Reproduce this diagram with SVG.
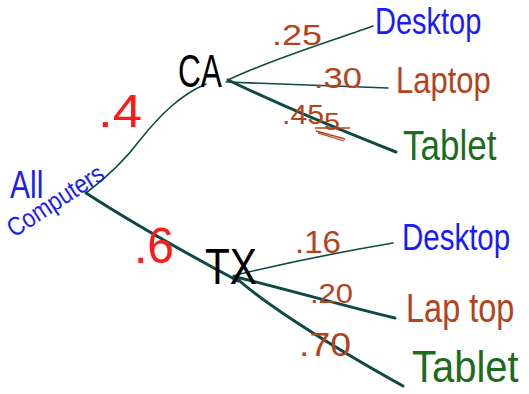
<svg xmlns="http://www.w3.org/2000/svg" width="529" height="394" viewBox="0 0 529 394">
<style>
.t{font-family:"Liberation Sans",Arial,sans-serif;font-weight:normal}
.b{fill:#1a1aff}.r{fill:#ff1a1a}.o{fill:#b5421a}.g{fill:#1e6b1e}.k{fill:#000}
.ln{fill:none;stroke:#0d4a45;stroke-linecap:round}
.thin{stroke-width:1.6}.thick{stroke-width:3}
</style>
<rect width="529" height="394" fill="#fff"/>
<g id="connectors">
<path class="ln thin" d="M86,193 C110,175 125,160 140,140 C160,115 180,95 206,84"/>
<path class="ln thick" d="M86,193 C120,215 180,250 238,281"/>
<path class="ln thin" d="M228,80 C270,60 320,45 373,26"/>
<path class="ln thin" d="M226,82 L388,88"/>
<path class="ln thick" d="M228,80 C280,105 340,130 396,152"/>
<path class="ln thin" d="M236,275 C290,262 340,252 393,243"/>
<path class="ln thick" d="M236,277 C290,290 340,305 395,318"/>
<path class="ln thick" d="M234,276 C260,300 320,340 403,386"/>
</g>
<g id="root"><text class="t b" transform="translate(10,198) scale(1,1.3)" font-size="30">All</text>
<text class="t b" x="14" y="238" font-size="26" textLength="110" lengthAdjust="spacingAndGlyphs" transform="rotate(-33 14 238)">Computers</text></g>
<g id="p-ca"><text class="t r" x="98" y="127" font-size="46" textLength="44" lengthAdjust="spacingAndGlyphs">.4</text></g>
<g id="p-tx"><text class="t r" x="134" y="263" font-size="50" textLength="40" lengthAdjust="spacingAndGlyphs">.6</text></g>
<g id="ca"><text class="t k" x="178" y="87" font-size="46" textLength="44" lengthAdjust="spacingAndGlyphs">CA</text></g>
<g id="tx"><text class="t k" x="205" y="284" font-size="50" textLength="52" lengthAdjust="spacingAndGlyphs">TX</text></g>
<g id="ca-desktop"><text class="t o" x="272" y="45" font-size="30" textLength="50" lengthAdjust="spacingAndGlyphs">.25</text>
<text class="t b" transform="translate(375,34) scale(1,1.25)" font-size="29">Desktop</text></g>
<g id="ca-laptop"><text class="t o" x="314" y="88" font-size="29" textLength="48" lengthAdjust="spacingAndGlyphs">.30</text>
<text class="t o" transform="translate(396,93) scale(1,1.22)" font-size="31">Laptop</text></g>
<g id="ca-tablet"><text class="t o" x="282" y="124" font-size="28" textLength="42" lengthAdjust="spacingAndGlyphs">.45</text>
<text class="t o" x="324" y="130" font-size="24" textLength="16" lengthAdjust="spacingAndGlyphs">5</text>
<path d="M315,128 L350,128 M316,131 L345,139 M318,133 L344,141" fill="none" stroke="#b5421a" stroke-width="1.3"/>
<text class="t g" transform="translate(403,160) scale(1,1.2)" font-size="35">Tablet</text></g>
<g id="tx-desktop"><text class="t o" x="295" y="253" font-size="32" textLength="46" lengthAdjust="spacingAndGlyphs">.16</text>
<text class="t b" transform="translate(402,250) scale(1,1.25)" font-size="29.5">Desktop</text></g>
<g id="tx-laptop"><text class="t o" x="310" y="303" font-size="28" textLength="43" lengthAdjust="spacingAndGlyphs">.20</text>
<text class="t o" transform="translate(406,322) scale(1,1.27)" font-size="32.5">Lap top</text></g>
<g id="tx-tablet"><text class="t o" x="299" y="356" font-size="34" textLength="52" lengthAdjust="spacingAndGlyphs">.70</text>
<text class="t g" transform="translate(412,382) scale(1,1.12)" font-size="40">Tablet</text></g>
</svg>
